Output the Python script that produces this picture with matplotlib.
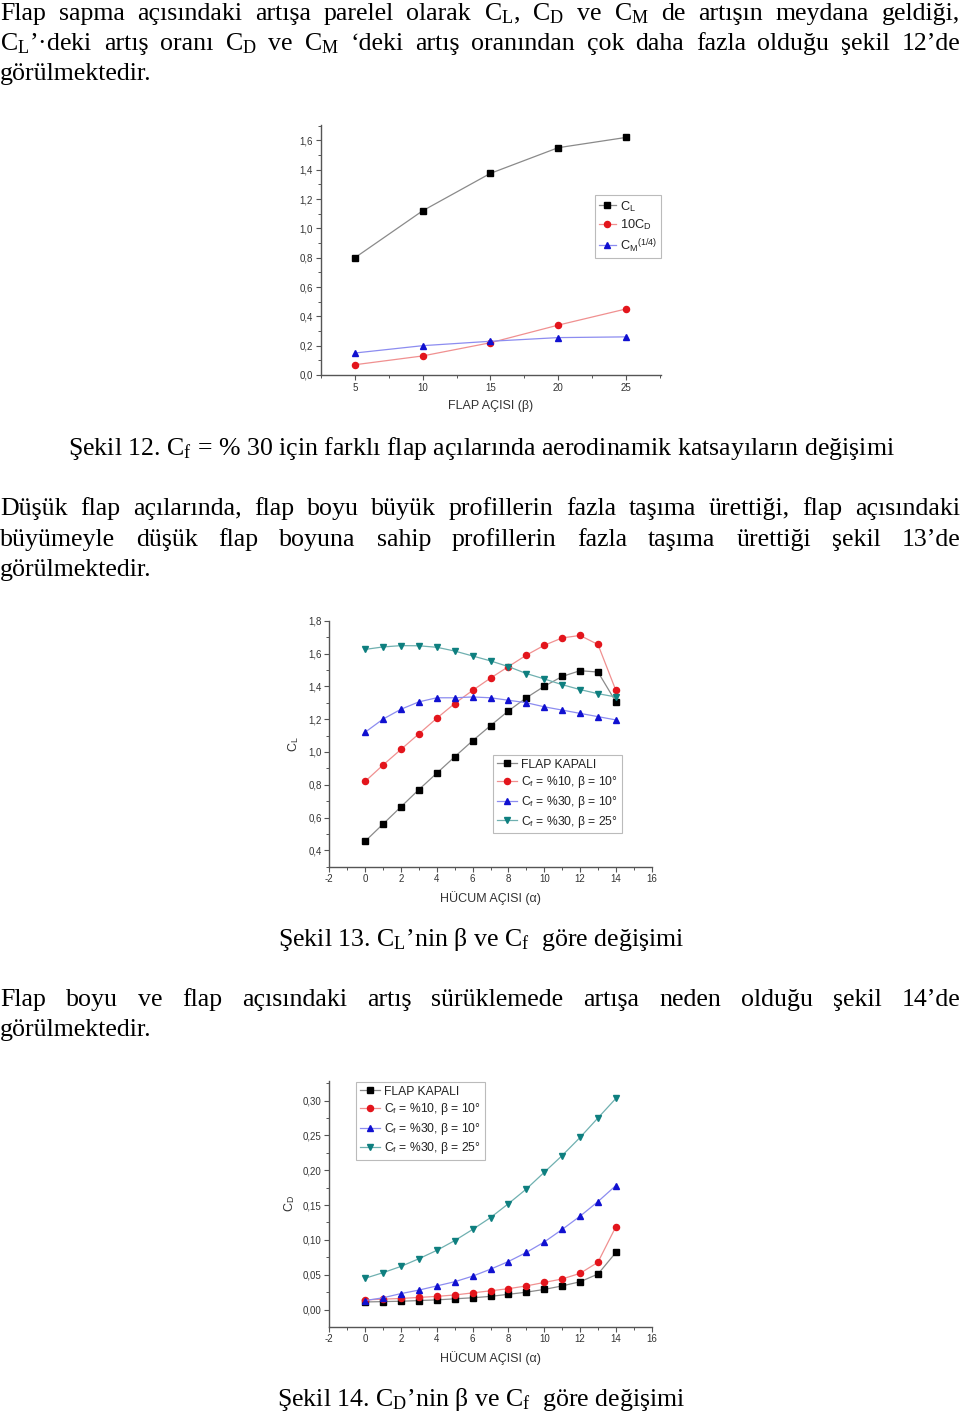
import matplotlib
matplotlib.use('Agg')
import matplotlib.pyplot as plt
from matplotlib.ticker import MultipleLocator, FuncFormatter

plt.rcParams['font.family'] = ['Liberation Sans', 'DejaVu Sans']
plt.rcParams['axes.unicode_minus'] = False
plt.rcParams['mathtext.fontset'] = 'custom'
plt.rcParams['mathtext.rm'] = 'Liberation Serif'
plt.rcParams['mathtext.sf'] = 'Liberation Sans'
plt.rcParams['mathtext.it'] = 'Liberation Serif:italic'

# --- data: Sekil 12 (Cf = %30, different flap angles)
beta = [5, 10, 15, 20, 25]
cl_beta = [0.80, 1.12, 1.375, 1.55, 1.62]
cd10_beta = [0.07, 0.13, 0.22, 0.34, 0.45]
cm_beta = [0.15, 0.20, 0.23, 0.255, 0.26]

# --- data: Sekil 13 / 14 (angle of attack 0..14)
alpha = [0, 1, 2, 3, 4, 5, 6, 7, 8, 9, 10, 11, 12, 13, 14]
cl_kapali = [0.455, 0.56, 0.665, 0.77, 0.87, 0.97, 1.068, 1.16, 1.25, 1.33, 1.40, 1.46, 1.495, 1.487, 1.305]
cl_10_10 = [0.82, 0.92, 1.015, 1.11, 1.205, 1.295, 1.375, 1.45, 1.52, 1.59, 1.65, 1.695, 1.71, 1.655, 1.375]
cl_30_10 = [1.12, 1.20, 1.26, 1.305, 1.33, 1.33, 1.335, 1.33, 1.315, 1.30, 1.275, 1.255, 1.235, 1.215, 1.195]
cl_30_25 = [1.625, 1.64, 1.648, 1.647, 1.638, 1.615, 1.585, 1.555, 1.52, 1.478, 1.445, 1.41, 1.38, 1.355, 1.335]

cd_kapali = [0.011, 0.0115, 0.012, 0.013, 0.014, 0.0155, 0.017, 0.019, 0.022, 0.025, 0.029, 0.034, 0.040, 0.051, 0.082]
cd_10_10 = [0.014, 0.015, 0.016, 0.0175, 0.019, 0.021, 0.024, 0.027, 0.030, 0.034, 0.039, 0.044, 0.052, 0.068, 0.119]
cd_30_10 = [0.013, 0.017, 0.023, 0.028, 0.034, 0.040, 0.048, 0.058, 0.069, 0.082, 0.097, 0.115, 0.134, 0.155, 0.178]
cd_30_25 = [0.045, 0.053, 0.062, 0.073, 0.085, 0.099, 0.115, 0.132, 0.152, 0.173, 0.197, 0.221, 0.247, 0.275, 0.303]

series_labels = ['FLAP KAPALI',
                 r'C$_\mathsf{f}$ = %10, β = 10°',
                 r'C$_\mathsf{f}$ = %30, β = 10°',
                 r'C$_\mathsf{f}$ = %30, β = 25°']

W, H = 960, 1417
fig = plt.figure(figsize=(W / 100, H / 100), dpi=100)

# marker colour, line colour, marker
styles = [('#000000', '#8a8a8a', 's'),
          ('#e3151c', '#f09090', 'o'),
          ('#1010d0', '#8c8cf0', '^'),
          ('#0e7f7f', '#6fb0b0', 'v')]


def add_ax(l, t, r, b):
    return fig.add_axes([l / W, 1 - b / H, (r - l) / W, (b - t) / H])


def comma(fmt):
    return FuncFormatter(lambda v, p: (fmt % v).replace('.', ','))


def style_ax(ax):
    for s in ['top', 'right']:
        ax.spines[s].set_visible(False)
    for s in ['left', 'bottom']:
        ax.spines[s].set_color('#555555')
        ax.spines[s].set_linewidth(1.0)
    ax.tick_params(which='major', direction='out', length=3.5, width=0.8,
                   color='#555555', labelsize=7, labelcolor='#333333', pad=2)
    ax.tick_params(which='minor', direction='out', length=2, width=0.7, color='#555555')


def plot_series(ax, x, y, k, label):
    mc, lc, m = styles[k]
    ax.plot(x, y, color=lc, lw=0.9, marker=m, ms=4.4, mfc=mc, mec=mc, label=label)


def legend(ax, fs=8.7, hl=1.7, **kw):
    lg = ax.legend(fontsize=fs, frameon=True, fancybox=False, borderaxespad=0,
                   handlelength=hl, handletextpad=0.35, labelspacing=0.3,
                   borderpad=0.3, **kw)
    lg.get_frame().set_edgecolor('#aaaaaa')
    lg.get_frame().set_linewidth(0.8)
    for t in lg.get_texts():
        t.set_color('#222222')


# ---- chart 1
ax1 = add_ax(320.7, 125, 661, 375)
style_ax(ax1)
plot_series(ax1, beta, cl_beta, 0, r'C$_\mathsf{L}$')
plot_series(ax1, beta, cd10_beta, 1, r'10C$_\mathsf{D}$')
plot_series(ax1, beta, cm_beta, 2, r'C$_\mathsf{M}$$^\mathsf{(1/4)}$')
ax1.set_xlim(2.47, 27.6)
ax1.set_ylim(0, 1.705)
ax1.xaxis.set_major_locator(MultipleLocator(5))
ax1.xaxis.set_minor_locator(MultipleLocator(2.5))
ax1.yaxis.set_major_locator(MultipleLocator(0.2))
ax1.yaxis.set_minor_locator(MultipleLocator(0.1))
ax1.yaxis.set_major_formatter(comma('%.1f'))
ax1.set_xlabel('FLAP AÇISI (β)', fontsize=9, color='#333333', labelpad=5)
legend(ax1, fs=9.2, hl=1.3, loc='upper right', bbox_to_anchor=(1.0, 0.72))

# ---- chart 2
ax2 = add_ax(329.3, 620.7, 651.7, 866.7)
style_ax(ax2)
for k, ys in enumerate([cl_kapali, cl_10_10, cl_30_10, cl_30_25]):
    plot_series(ax2, alpha, ys, k, series_labels[k])
ax2.set_xlim(-2, 16)
ax2.set_ylim(0.3, 1.8)
ax2.xaxis.set_major_locator(MultipleLocator(2))
ax2.xaxis.set_minor_locator(MultipleLocator(1))
ax2.yaxis.set_major_locator(MultipleLocator(0.2))
ax2.yaxis.set_minor_locator(MultipleLocator(0.1))
ax2.yaxis.set_major_formatter(comma('%.1f'))
ax2.set_xlabel('HÜCUM AÇISI (α)', fontsize=9, color='#333333', labelpad=5)
ax2.set_ylabel(r'C$_\mathsf{L}$', fontsize=9, color='#333333', labelpad=5)
legend(ax2, loc='upper left', bbox_to_anchor=(0.508, 0.454))

# ---- chart 3
ax3 = add_ax(329.3, 1081, 651.7, 1326.7)
style_ax(ax3)
for k, ys in enumerate([cd_kapali, cd_10_10, cd_30_10, cd_30_25]):
    plot_series(ax3, alpha, ys, k, series_labels[k])
ax3.set_xlim(-2, 16)
ax3.set_ylim(-0.0245, 0.328)
ax3.xaxis.set_major_locator(MultipleLocator(2))
ax3.xaxis.set_minor_locator(MultipleLocator(1))
ax3.yaxis.set_major_locator(MultipleLocator(0.05))
ax3.yaxis.set_minor_locator(MultipleLocator(0.025))
ax3.yaxis.set_major_formatter(comma('%.2f'))
ax3.set_xlabel('HÜCUM AÇISI (α)', fontsize=9, color='#333333', labelpad=5)
ax3.set_ylabel(r'C$_\mathsf{D}$', fontsize=9, color='#333333', labelpad=4)
legend(ax3, loc='upper left', bbox_to_anchor=(0.083, 0.996))

# ---- body text
SERIF = 'Liberation Serif'
FS = 18.6
renderer = fig.canvas.get_renderer()
space = 0.25 * FS * 100 / 72


def put_line(line, y, justify=True):
    words = line.split(' ')
    texts = [fig.text(0, 1 - y / H, w, fontsize=FS, family=SERIF, va='baseline') for w in words]
    widths = [t.get_window_extent(renderer).width for t in texts]
    gap = (W - sum(widths)) / (len(words) - 1) if justify and len(words) > 1 else space
    x = 0
    for t, w in zip(texts, widths):
        t.set_x(x / W)
        x += w + gap


def caption(s, y):
    fig.text(481 / W, 1 - y / H, s, fontsize=FS, family=SERIF, ha='center', va='baseline')


put_line(r'Flap sapma açısındaki artışa parelel olarak C$_\mathrm{L}$, C$_\mathrm{D}$ ve C$_\mathrm{M}$ de artışın meydana geldiği,', 20)
put_line(r'C$_\mathrm{L}$’·deki artış oranı C$_\mathrm{D}$ ve C$_\mathrm{M}$ ‘deki artış oranından çok daha fazla olduğu şekil 12’de', 50)
put_line('görülmektedir.', 80, justify=False)

caption(r'Şekil 12. C$_\mathrm{f}$ = % 30 için farklı flap açılarında aerodinamik katsayıların değişimi', 455)

put_line('Düşük flap açılarında, flap boyu büyük profillerin fazla taşıma ürettiği, flap açısındaki', 515)
put_line('büyümeyle düşük flap boyuna sahip profillerin fazla taşıma ürettiği şekil 13’de', 546)
put_line('görülmektedir.', 576, justify=False)

caption(r'Şekil 13. C$_\mathrm{L}$’nin β ve C$_\mathrm{f}$  göre değişimi', 946)

put_line('Flap boyu ve flap açısındaki artış sürüklemede artışa neden olduğu şekil 14’de', 1006)
put_line('görülmektedir.', 1036, justify=False)

caption(r'Şekil 14. C$_\mathrm{D}$’nin β ve C$_\mathrm{f}$  göre değişimi', 1406)

fig.savefig('out.png', dpi=100)
